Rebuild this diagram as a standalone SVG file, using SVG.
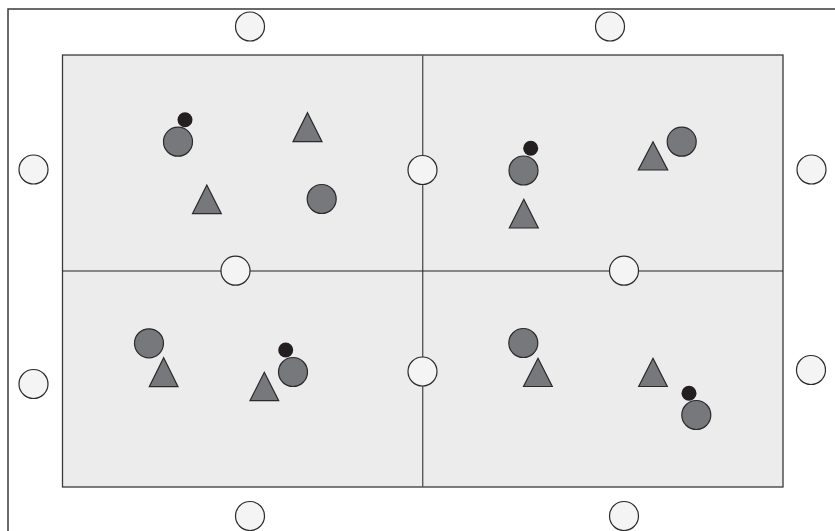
<svg xmlns="http://www.w3.org/2000/svg" width="835" height="531" viewBox="0 0 835 531">
<style>
.frame{fill:#fff;stroke:#3a3a3a;stroke-width:1.5}
.area{fill:#ececec;stroke:#3a3a3a;stroke-width:1.3}
.vline{stroke:#5a5a5a;stroke-width:1.4}
.hline{stroke:#222;stroke-width:1.2}
.port{fill:#f4f4f4;stroke:#2a2a2a;stroke-width:1.2}
.gc{fill:#77787b;stroke:#2a2a2a;stroke-width:1.2}
.tri{fill:#77787b;stroke:#2a2a2a;stroke-width:1.2;stroke-linejoin:miter}
.dot{fill:#231f20}
</style>
<rect class="frame" x="8" y="9" width="840" height="540"/>
<rect class="area" x="62.5" y="55" width="720.5" height="432"/>
<g id="connectors">
<line class="vline" x1="422.7" y1="55" x2="422.7" y2="487"/>
<line class="hline" x1="62.5" y1="271" x2="783" y2="271"/>
</g>
<g id="ports">
<circle class="port" cx="250" cy="26.5" r="14.5"/>
<circle class="port" cx="610" cy="26.5" r="14.5"/>
<circle class="port" cx="33.5" cy="169.5" r="14.5"/>
<circle class="port" cx="811.5" cy="169.5" r="14.5"/>
<circle class="port" cx="33.5" cy="384" r="14.5"/>
<circle class="port" cx="811" cy="370" r="14.5"/>
<circle class="port" cx="250" cy="516" r="14.5"/>
<circle class="port" cx="624" cy="516" r="14.5"/>
<circle class="port" cx="422.5" cy="170" r="14.5"/>
<circle class="port" cx="422.5" cy="371.5" r="14.5"/>
<circle class="port" cx="235.5" cy="270.7" r="14.5"/>
<circle class="port" cx="624" cy="270.7" r="14.5"/>
</g>
<g id="q1">
<circle class="dot" cx="185" cy="119.8" r="7.5"/>
<circle class="gc" cx="178" cy="141.7" r="14.5"/>
<polygon class="tri" points="307.5,112.7 322,141.7 293,141.7"/>
<polygon class="tri" points="206.8,185 221.3,213.7 192.5,213.7"/>
<circle class="gc" cx="321.7" cy="199" r="14.5"/>
</g>
<g id="q2">
<circle class="dot" cx="530.7" cy="148.3" r="7.5"/>
<circle class="gc" cx="523.5" cy="170.5" r="14.5"/>
<polygon class="tri" points="523.8,199.3 538.3,228 509.3,228"/>
<polygon class="tri" points="653,141.7 667.7,170 638.3,170"/>
<circle class="gc" cx="681.7" cy="141.7" r="14.5"/>
</g>
<g id="q3">
<circle class="gc" cx="149" cy="343.3" r="14.5"/>
<polygon class="tri" points="163.7,357.7 178,386.7 149.3,386.7"/>
<circle class="dot" cx="285.7" cy="350" r="7.5"/>
<circle class="gc" cx="293" cy="372" r="14.5"/>
<polygon class="tri" points="264.3,372.3 278.7,400.7 250,400.7"/>
</g>
<g id="q4">
<circle class="gc" cx="523.3" cy="343" r="14.5"/>
<polygon class="tri" points="538,358.3 552.3,386.5 523.5,386.5"/>
<polygon class="tri" points="653,358.3 667.3,386.5 638.7,386.5"/>
<circle class="dot" cx="689" cy="393.3" r="7.5"/>
<circle class="gc" cx="696.3" cy="415" r="14.5"/>
</g>
</svg>
